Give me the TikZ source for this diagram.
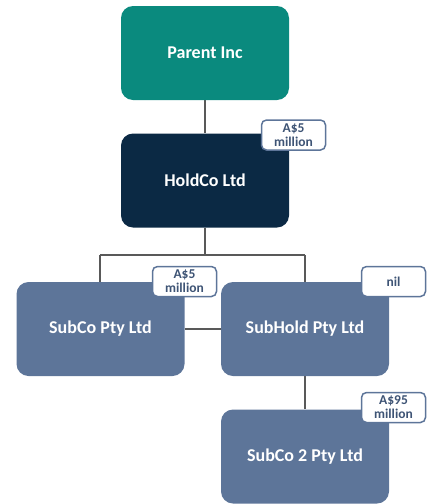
\documentclass[tikz,border=0pt]{standalone}
\usepackage{fontspec}
\setmainfont{Carlito}
\usetikzlibrary{backgrounds}
\definecolor{teal1}{HTML}{0A8A7E}
\definecolor{navy1}{HTML}{0B2944}
\definecolor{slate1}{HTML}{5D7599}
\definecolor{lbltext}{HTML}{3E5475}
\definecolor{linec}{HTML}{595959}
\tikzset{
  entity/.style={rounded corners=12pt, minimum width=168pt, minimum height=94pt, text=white, font=\bfseries\fontsize{18}{20}\selectfont, inner sep=0pt},
  amount/.style={draw=slate1, line width=1.5pt, fill=white, rounded corners=5pt, minimum width=64pt, minimum height=30pt, text=lbltext, font=\bfseries\fontsize{13.5}{14}\selectfont, align=center, inner sep=0pt},
  conn/.style={draw=linec, line width=2pt}
}
\begin{document}
\begin{tikzpicture}[x=1pt,y=-1pt]
\useasboundingbox (0,0) rectangle (427,504);
% entities
\node[entity, fill=teal1] (parent) at (205,53) {Parent Inc};
\node[entity, fill=navy1] (holdco) at (205,180.5) {HoldCo Ltd};
\node[entity, fill=slate1] (subco) at (100.5,329) {SubCo Pty Ltd};
\node[entity, fill=slate1] (subhold) at (305,329) {SubHold Pty Ltd};
\node[entity, fill=slate1] (subco2) at (305,456.5) {SubCo 2 Pty Ltd};
\coordinate (jL) at (100,255);
\coordinate (jR) at (305,255);
\coordinate (jM) at (205,255);
% connectors behind the boxes
\begin{pgfonlayer}{background}
\draw[conn] (parent) -- (holdco);
\draw[conn] (holdco) -- (jM);
\draw[conn] (jL) -- (jR);
\draw[conn] (jL) -- (jL |- subco.north);
\draw[conn] (jR) -- (subhold.north);
\draw[conn] (subco.east) -- (subhold.west);
\draw[conn] (subhold) -- (subco2);
\end{pgfonlayer}
% amounts
\node[amount] (a1) at (293.5,135) {A\$5\\million};
\node[amount] (a2) at (184.5,281.5) {A\$5\\million};
\node[amount] (a3) at (393.5,281.5) {nil};
\node[amount] (a4) at (393.5,407.5) {A\$95\\million};
\end{tikzpicture}
\end{document}
